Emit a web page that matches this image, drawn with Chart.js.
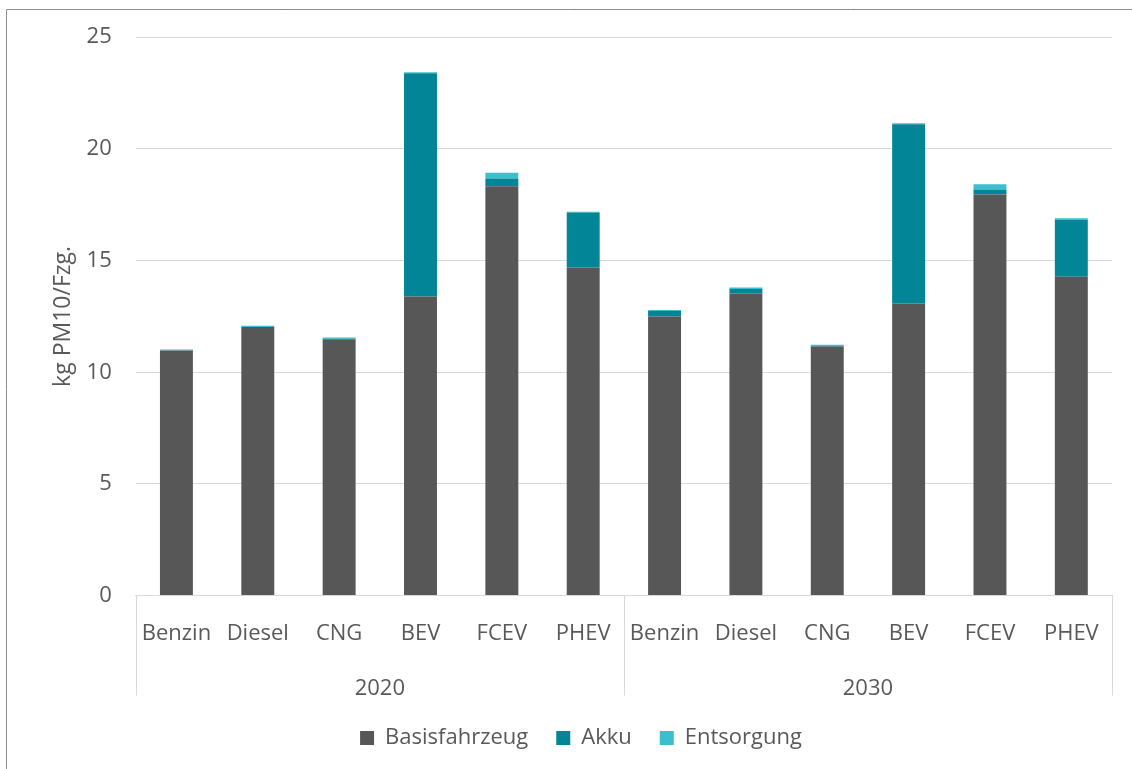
<!DOCTYPE html>
<html>
<head>
<meta charset="utf-8">
<script src="https://cdn.jsdelivr.net/npm/chart.js@4.4.1/dist/chart.umd.min.js"></script>
<style>
  html, body { margin: 0; padding: 0; background: #fff; }
  #holder { position: relative; width: 1132px; height: 769px; }
</style>
</head>
<body>
<div id="holder"><canvas id="pmChart"></canvas></div>
<script>
const categories = ["Benzin", "Diesel", "CNG", "BEV", "FCEV", "PHEV",
                    "Benzin", "Diesel", "CNG", "BEV", "FCEV", "PHEV"];
const years = ["2020", "2030"];
const basisfahrzeug = [10.97, 12.02, 11.48, 13.39, 18.33, 14.69,
                       12.50, 13.52, 11.15, 13.08, 17.96, 14.28];
const akku = [0.0, 0.01, 0.02, 10.00, 0.34, 2.46,
              0.24, 0.21, 0.03, 8.02, 0.22, 2.54];
const entsorgung = [0.05, 0.05, 0.06, 0.04, 0.26, 0.04,
                    0.05, 0.06, 0.05, 0.05, 0.24, 0.07];
const yTicks = [0, 5, 10, 15, 20, 25];

const textColor = "#595959";
const fontFamily = "'Open Sans', 'Noto Sans', sans-serif";

// year labels + group separators under the axis, plus the outer frame
const groupPlugin = {
    id: "groupPlugin",
    afterDraw(chart) {
        const ctx = chart.ctx;
        const x = chart.scales.x;
        const bottom = chart.chartArea.bottom;
        const per = categories.length / years.length;
        const step = x.getPixelForValue(1) - x.getPixelForValue(0);
        ctx.save();
        ctx.strokeStyle = "#d9d9d9";
        ctx.lineWidth = 1;
        for (let g = 0; g <= years.length; g++) {
            let px = x.getPixelForValue(g * per) - step / 2;
            px = Math.round(px) + 0.5;
            ctx.beginPath();
            ctx.moveTo(px, bottom);
            ctx.lineTo(px, bottom + 100);
            ctx.stroke();
        }
        ctx.fillStyle = textColor;
        ctx.font = "22px " + fontFamily;
        ctx.textAlign = "center";
        ctx.textBaseline = "middle";
        years.forEach((yr, g) => {
            const mid = (x.getPixelForValue(g * per) + x.getPixelForValue(g * per + per - 1)) / 2;
            ctx.fillText(yr, mid, bottom + 93);
        });
        // frame
        ctx.strokeStyle = "#8c8c8c";
        ctx.beginPath();
        ctx.moveTo(6.5, chart.height);
        ctx.lineTo(6.5, 9.5);
        ctx.lineTo(chart.width, 9.5);
        ctx.stroke();
        ctx.restore();
    }
};

const data = {
    labels: categories,
    datasets: [
        { label: "Basisfahrzeug", data: basisfahrzeug, backgroundColor: "#575757" },
        { label: "Akku", data: akku, backgroundColor: "#028597" },
        { label: "Entsorgung", data: entsorgung, backgroundColor: "#3bbfcc" }
    ]
};

new Chart(document.getElementById("pmChart"), {
    type: "bar",
    data: data,
    plugins: [groupPlugin],
    options: {
        responsive: true,
        maintainAspectRatio: false,
        animation: false,
        datasets: {
            bar: {
                barPercentage: 0.81,
                categoryPercentage: 0.5,
                borderWidth: 0
            }
        },
        layout: { padding: { top: 35, right: 20, left: 50, bottom: 10 } },
        plugins: {
            tooltip: { enabled: false },
            legend: {
                position: "bottom",
                labels: {
                    color: textColor,
                    font: { size: 22, family: fontFamily },
                    boxWidth: 14,
                    boxHeight: 14,
                    padding: 28
                }
            }
        },
        scales: {
            x: {
                stacked: true,
                grid: { display: false, drawTicks: false },
                border: { display: true, color: "#d9d9d9" },
                ticks: {
                    color: textColor,
                    font: { size: 22, family: fontFamily },
                    padding: 25,
                    maxRotation: 0,
                    autoSkip: false
                },
                afterFit(scale) { scale.height += 27; }
            },
            y: {
                stacked: true,
                min: yTicks[0],
                max: yTicks[yTicks.length - 1],
                afterBuildTicks(scale) { scale.ticks = yTicks.map(v => ({ value: v })); },
                grid: { color: "#d9d9d9", drawTicks: false },
                border: { display: false },
                ticks: {
                    color: textColor,
                    font: { size: 22, family: fontFamily },
                    padding: 24
                },
                title: {
                    display: true,
                    text: "kg PM10/Fzg.",
                    color: textColor,
                    font: { size: 23, family: fontFamily },
                    padding: { top: 0, bottom: 10 }
                },
                afterFit(scale) { scale.width -= 25; }
            }
        }
    }
});
</script>
</body>
</html>
